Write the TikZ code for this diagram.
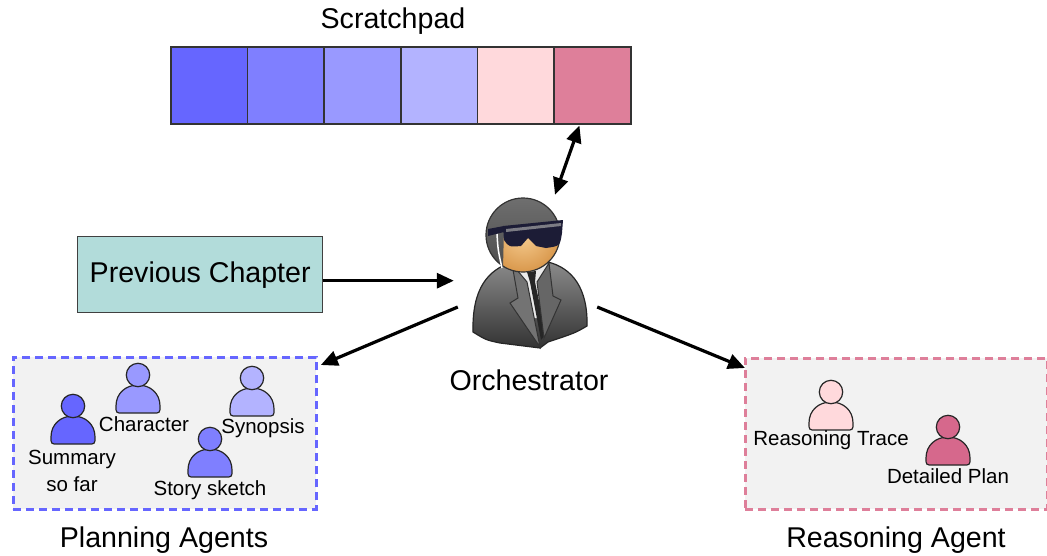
\documentclass[tikz,border=0pt]{standalone}
\usepackage{fontspec}
\setmainfont{Liberation Sans}
\usetikzlibrary{arrows.meta,calc,shapes.geometric}

\definecolor{cA}{HTML}{6666FF}
\definecolor{cB}{HTML}{7F7FFF}
\definecolor{cC}{HTML}{9999FF}
\definecolor{cD}{HTML}{B3B3FF}
\definecolor{cE}{HTML}{FFD9DC}
\definecolor{cF}{HTML}{DE7F9A}
\definecolor{cG}{HTML}{D6688C}
\definecolor{tealbox}{HTML}{B2DCDA}
\definecolor{panel}{HTML}{F2F2F2}
\definecolor{suitdark}{HTML}{333333}
\definecolor{suitlight}{HTML}{8A8A8A}
\definecolor{skinlight}{HTML}{F6CC90}
\definecolor{skindark}{HTML}{D9984C}
\definecolor{glasscol}{HTML}{1C1C36}

\tikzset{
  biglabel/.style={font=\fontsize{28.6}{32}\selectfont, inner sep=0},
  smalllabel/.style={font=\fontsize{20.5}{27}\selectfont, inner sep=0, align=center},
  cell/.style={draw=black!80, line width=1.6pt, minimum width=76.67, minimum height=77, inner sep=0, anchor=north west},
  flow/.style={line width=3.2pt, -{Triangle[length=17pt,width=15pt]}},
  panelbox/.style={fill=panel, dash pattern=on 8pt off 5pt, line width=2.8pt, inner sep=0, anchor=north west},
  pics/agent/.style={code={
    \draw[fill=#1, draw=black!85, line width=1.2pt]
      (-22,31) .. controls (-22,18) and (-12,10) .. (0,10)
      .. controls (12,10) and (22,18) .. (22,31)
      .. controls (22,38) .. (15,38) -- (-15,38)
      .. controls (-22,38) .. (-22,31) -- cycle;
    \draw[fill=#1, draw=black!85, line width=1.2pt] (0,0) circle (11.7);
  }}
}

\begin{document}
\begin{tikzpicture}[x=1pt,y=-1pt]
\useasboundingbox (0,0) rectangle (1047,555);

% scratchpad strip
\node[biglabel] (padlabel) at (393,21) {Scratchpad};
\node[cell, fill=cA] (c1) at (170,46) {};
\node[cell, fill=cB] (c2) at (246.67,46) {};
\node[cell, fill=cC] (c3) at (323.33,46) {};
\node[cell, fill=cD] (c4) at (400,46) {};
\node[cell, fill=cE] (c5) at (476.67,46) {};
\node[cell, fill=cF] (c6) at (553.33,46) {};

% input
\node[draw=black!75, line width=1.4pt, fill=tealbox, minimum width=245, minimum height=76, inner sep=0, biglabel, anchor=north west] (prev) at (77,236) {Previous Chapter};

% orchestrator figure
\node[minimum width=140, minimum height=160, inner sep=0] (orch) at (527,270) {};
\begin{scope}
  % suit
  \shade[top color=suitlight, bottom color=suitdark, draw=black!85, line width=1.2pt]
    (473,332) .. controls (472,288) and (488,270) .. (512,262) -- (548,262)
    .. controls (572,268) and (588,288) .. (587,326)
    .. controls (575,333) .. (548,342) -- (540,348) -- (500,343)
    .. controls (486,340) .. (473,332) -- cycle;
  % shirt
  \fill[white!92!black] (514,266) -- (548,264) -- (540,318) -- (530,318) -- cycle;
  % tie
  \fill[black!85] (527,272) -- (536,271) -- (535,282) -- (546,334) -- (541,340) -- (530,282) -- cycle;
  % lapels
  \draw[black!80, line width=1pt, fill=black!55] (512,264) -- (518,298) -- (510,303) -- (540,347) -- (527,282) -- cycle;
  \draw[black!80, line width=1pt, fill=black!60] (549,263) -- (553,296) -- (561,300) -- (544,338) -- (537,282) -- cycle;
  % head
  \shade[inner color=skinlight, outer color=skindark] (523,235) circle (37);
  \begin{scope}
    \clip (523,235) circle (37);
    \shade[top color=black!55, bottom color=black!70]
      (480,190) -- (570,190) -- (570,221) -- (504,228) -- (503,268) -- (480,268) -- cycle;
  \end{scope}
  \draw[black!80, line width=1.2pt] (523,235) circle (37);
  % sunglasses
  \fill[glasscol] (488,229) -- (504,226) -- (504,232) -- (488,236) -- cycle;
  \fill[glasscol] (503,226) -- (563,220) -- (562,233) .. controls (560,246) .. (546,248)
     -- (536,246) -- (528,238) -- (521,246) .. controls (509,247) .. (504,240) -- cycle;
  \fill[black!35, opacity=0.7] (506,229) -- (561,223) -- (561,226) -- (506,232) -- cycle;
  % earpiece wire
  \draw[white, line width=1.5pt] (497,234) .. controls (498,250) .. (502,268);
\end{scope}
\node[biglabel] (orchlabel) at (529,380) {Orchestrator};

% planning agents panel
\node[panelbox, draw=cA, minimum width=303, minimum height=152] (plan) at (12,356) {};
\pic at (73,406) {agent=cA};
\pic at (138,375) {agent=cC};
\pic at (252,378) {agent=cD};
\pic at (210,439) {agent=cB};
\node[smalllabel] (sumlabel) at (72,471) {Summary\\so far};
\node[smalllabel] (charlabel) at (144,424) {Character};
\node[smalllabel] (synlabel) at (263,428) {Synopsis};
\node[smalllabel] (storylabel) at (210,490) {Story sketch};
\node[biglabel] (planlabel) at (164,540) {Planning Agents};

% reasoning agent panel
\node[panelbox, draw=cF, minimum width=302, minimum height=151] (reason) at (744,357) {};
\pic at (831,392) {agent=cE};
\pic at (948,427) {agent=cG};
\node[smalllabel] (tracelabel) at (831,440) {Reasoning Trace};
\node[smalllabel] (planlbl) at (948,476) {Detailed Plan};
\node[biglabel] (reasonlabel) at (896,540) {Reasoning Agent};

% connectors
\draw[flow] ([yshift=-6]prev.east) -- ([xshift=-3,yshift=-6]prev.east -| orch.west);
\draw[flow, {Triangle[length=17pt,width=15pt]}-{Triangle[length=17pt,width=15pt]}]
  ([xshift=28,yshift=-5]orch.north) -- ([xshift=-13,yshift=-1]c6.south);
\draw[flow] ([xshift=1,yshift=-37]orch.west) -- ([xshift=3,yshift=-9]plan.north east);
\draw[flow] ([xshift=0,yshift=-37]orch.east) -- ([xshift=1,yshift=-11]reason.north west);
\end{tikzpicture}
\end{document}
